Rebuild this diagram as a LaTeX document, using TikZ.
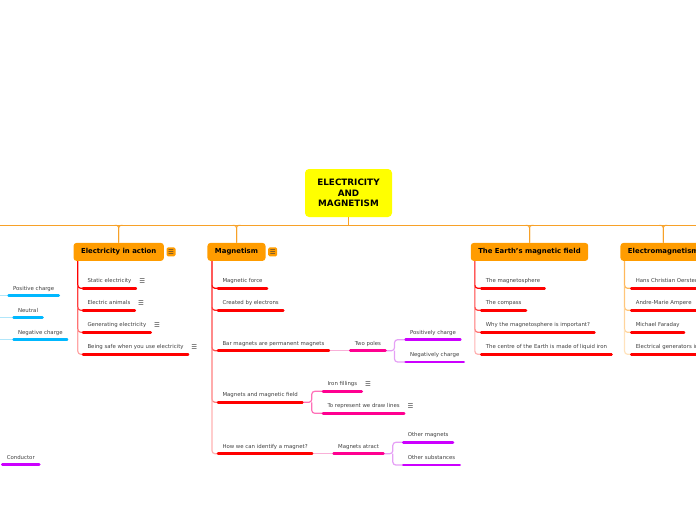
\documentclass[tikz,border=0pt]{standalone}
\usepackage{fontspec}
\setmainfont{DejaVu Sans}
\usetikzlibrary{calc}
\definecolor{hub}{HTML}{F7A128}
\definecolor{boxor}{HTML}{FF9C00}
\definecolor{rootyel}{HTML}{FFFF00}
\definecolor{leaftxt}{HTML}{404040}
\definecolor{ulred}{HTML}{FF0000}
\definecolor{ulpink}{HTML}{FF0090}
\definecolor{ulviolet}{HTML}{CC00FF}
\definecolor{ulcyan}{HTML}{00B8FF}
\definecolor{lnpink}{HTML}{F9B0D8}
\definecolor{lnmpink}{HTML}{FF70B8}
\definecolor{lnviolet}{HTML}{E5A0F5}
\definecolor{lncyan}{HTML}{B0E6FA}
\definecolor{lnorange}{HTML}{FFB85A}
\newcommand\leaffnt{\fontsize{5.4}{6.5}\selectfont}
\newcommand\titlefnt{\fontsize{6.9}{8}\selectfont\bfseries}
\newcommand\rootfnt{\fontsize{8.8}{10.5}\selectfont\bfseries}
\newcommand\iconfnt{\fontsize{6.5}{7}\selectfont}
\tikzset{
 leaf/.style={anchor=south west, inner xsep=4.3pt, inner ysep=4.3pt, text height=4pt, text depth=1.2pt, font=\leaffnt, text=leaftxt},
 ul/.style={line width=2.6pt, line cap=round, draw=#1},
 vline/.style={line width=1.2pt, rounded corners=3pt, draw=#1},
 topic/.style={anchor=north, fill=boxor, rounded corners=3pt, inner xsep=7.5pt, inner ysep=5.8pt, text height=5pt, text depth=1.4pt, font=\titlefnt, text=black},
 topicicon/.style={fill=boxor, rounded corners=1.5pt, minimum size=9pt, inner sep=0pt, font=\iconfnt, text=black!75},
 noteicon/.style={inner sep=0pt, font=\iconfnt, text=leaftxt},
 rootbox/.style={fill=rootyel, rounded corners=4pt, minimum width=87pt, minimum height=48pt, align=center, font=\rootfnt, text=black},
 hubline/.style={line width=1pt, draw=hub},
}
\begin{document}
\begin{tikzpicture}[x=1pt,y=-1pt]
\useasboundingbox (0,0) rectangle (696,520);
\clip (0,0) rectangle (696,520);
% root and bus
\node[rootbox] (root) at (348.5,193) {ELECTRICITY\\AND\\MAGNETISM};
\coordinate (busL) at (0,225.3);
\coordinate (busR) at (696,225.3);
% topics
\node[topic] (e1) at (118.7,242.7) {Electricity in action};
\node[topic] (mg) at (236.5,242.7) {Magnetism};
\node[topic] (ea) at (529.5,242.7) {The Earth's magnetic field};
\node[topic] (em) at (663.3,242.7) {Electromagnetism};
\node[topicicon] (e1i) at ($(e1.east)+(7,0)$) {☰};
\node[topicicon] (mgi) at ($(mg.east)+(7,0)$) {☰};
% bus lines
\draw[hubline] (busL) -- (busR);
\draw[hubline] (root.south) -- (root.south |- busL);
\foreach \t in {e1,mg,ea,em}{
  \draw[hubline, rounded corners=2.5pt] ([xshift=-4pt]\t.north |- busL) -| (\t.north);
  \draw[hubline, rounded corners=2.5pt] ([xshift=4pt]\t.north |- busL) -| (\t.north);
}
% leaves: Electricity in action
\node[leaf] (s1) at (83,288.3) {Static electricity};
\node[leaf] (s2) at (83,310.3) {Electric animals};
\node[leaf] (s3) at (83,332.3) {Generating electricity};
\node[leaf] (s4) at (83,354.3) {Being safe when you use electricity};
% leaves: Magnetism
\node[leaf] (m1) at (218,288.3) {Magnetic force};
\node[leaf] (m2) at (218,310.3) {Created by electrons};
\node[leaf] (m3) at (218,350.7) {Bar magnets are permanent magnets};
\node[leaf] (m4) at (218,402.3) {Magnets and magnetic field};
\node[leaf] (m5) at (218,453.7) {How we can identify a magnet?};
\node[leaf] (tp) at (350.3,350.7) {Two poles};
\node[leaf] (pc) at (405.6,339.7) {Positively charge};
\node[leaf] (nc) at (405.6,362) {Negatively charge};
\node[leaf] (fi) at (323,391.3) {Iron fillings};
\node[leaf] (dl) at (323,413.3) {To represent we draw lines};
\node[leaf] (ma) at (333.6,453.7) {Magnets atract};
\node[leaf] (om) at (403.3,442.3) {Other magnets};
\node[leaf] (os) at (403.3,465) {Other substances};
% leaves: Earth
\node[leaf] (a1) at (481.3,288.3) {The magnetosphere};
\node[leaf] (a2) at (481.3,310.3) {The compass};
\node[leaf] (a3) at (481.3,332.3) {Why the magnetosphere is important?};
\node[leaf] (a4) at (481.3,354.3) {The centre of the Earth is made of liquid iron};
% leaves: Electromagnetism
\node[leaf] (g1) at (631.3,288.3) {Hans Christian Oersted};
\node[leaf] (g2) at (631.3,310.3) {Andre-Marie Ampere};
\node[leaf] (g3) at (631.3,332.3) {Michael Faraday};
\node[leaf] (g4) at (631.3,354.3) {Electrical generators in};
% leaves: left side
\node[leaf] (lp) at (8.6,295.7) {Positive charge};
\node[leaf] (ln) at (13.6,317.7) {Neutral};
\node[leaf] (lg) at (13.6,339.7) {Negative charge};
\node[leaf] (lc) at (2.3,464.7) {Conductor};
\coordinate (lpo) at (0,295.7);
\coordinate (lno) at (0,317.7);
\coordinate (lgo) at (0,339.7);
% note icons
\foreach \n in {s1,s2,s3,s4,fi,dl}{
  \node[noteicon] (\n i) at ($(\n.south east)+(6.3,-7.6)$) {☰};
}
% vertical connectors
\coordinate (e1v) at ($(e1.south west)+(4.5,0)$);
\coordinate (mgv) at ($(mg.south west)+(4.7,0)$);
\coordinate (eav) at ($(ea.south west)+(4.3,0)$);
\coordinate (emv) at ($(em.south west)+(4.3,0)$);
\draw[vline=ulred] (e1v) |- (s1.south west);
\draw[vline=ulred!75] ($(e1v |- s1.south west)+(0,-3)$) |- (s2.south west);
\draw[vline=ulred!55] ($(e1v |- s2.south west)+(0,-3)$) |- (s3.south west);
\draw[vline=ulred!35] ($(e1v |- s3.south west)+(0,-3)$) |- (s4.south west);
\draw[vline=ulred] (mgv) |- (m1.south west);
\draw[vline=ulred!85] ($(mgv |- m1.south west)+(0,-3)$) |- (m2.south west);
\draw[vline=ulred!70] ($(mgv |- m2.south west)+(0,-3)$) |- (m3.south west);
\draw[vline=ulred!50] ($(mgv |- m3.south west)+(0,-3)$) |- (m4.south west);
\draw[vline=ulred!30] ($(mgv |- m4.south west)+(0,-3)$) |- (m5.south west);
\draw[vline=ulred] (eav) |- (a1.south west);
\draw[vline=ulred!75] ($(eav |- a1.south west)+(0,-3)$) |- (a2.south west);
\draw[vline=ulred!55] ($(eav |- a2.south west)+(0,-3)$) |- (a3.south west);
\draw[vline=ulred!30] ($(eav |- a3.south west)+(0,-3)$) |- (a4.south west);
\draw[vline=lnorange] (emv) |- (g1.south west);
\draw[vline=lnorange!80] ($(emv |- g1.south west)+(0,-3)$) |- (g2.south west);
\draw[vline=lnorange!60] ($(emv |- g2.south west)+(0,-3)$) |- (g3.south west);
\draw[vline=lnorange!40] ($(emv |- g3.south west)+(0,-3)$) |- (g4.south west);
% sub branches
\draw[vline=lnpink] (m3.south east) -- (tp.south west);
\coordinate (tpj) at ($(tp.south east)+(9,0)$);
\draw[vline=lnviolet] (tp.south east) -- (tpj) |- (pc.south west);
\draw[vline=lnviolet] (tpj) |- (nc.south west);
\coordinate (m4j) at ($(m4.south east)+(9.4,0)$);
\draw[vline=lnmpink] (m4.south east) -- (m4j) |- (fi.south west);
\draw[vline=lnmpink] (m4j) |- (dl.south west);
\draw[vline=lnpink] (m5.south east) -- (ma.south west);
\coordinate (maj) at ($(ma.south east)+(9.4,0)$);
\draw[vline=lnviolet] (ma.south east) -- (maj) |- (om.south west);
\draw[vline=lnviolet] (maj) |- (os.south west);
\draw[vline=lncyan] (lpo) -- (lp.south west);
\draw[vline=lncyan] (lno) -- (ln.south west);
\draw[vline=lncyan] (lgo) -- (lg.south west);
% underlines
\foreach \n in {s1,s2,s3,s4,m1,m2,m3,m4,m5,a1,a2,a3,a4,g1,g2,g3,g4}{
  \draw[ul=ulred] (\n.south west) -- (\n.south east);
}
\foreach \n in {tp,fi,dl,ma}{
  \draw[ul=ulpink] (\n.south west) -- (\n.south east);
}
\foreach \n in {pc,nc,om,os,lc}{
  \draw[ul=ulviolet] (\n.south west) -- (\n.south east);
}
\foreach \n in {lp,ln,lg}{
  \draw[ul=ulcyan] (\n.south west) -- (\n.south east);
}
\end{tikzpicture}
\end{document}
